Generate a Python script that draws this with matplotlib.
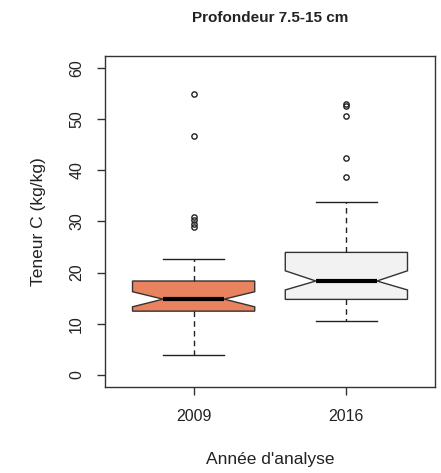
import matplotlib.pyplot as plt
import numpy as np

plt.rcParams['font.family'] = ['Liberation Sans', 'DejaVu Sans']

# valeurs
annees = ['2009', '2016']
q1 = [12.45, 14.75]
mediane = [14.8, 18.35]
q3 = [18.35, 23.95]
moust_bas = [3.95, 10.5]
moust_haut = [22.6, 33.75]
encoche_bas = [13.3, 16.6]
encoche_haut = [16.25, 20.35]
aberrants_2009 = [54.9, 46.8, 30.9, 30.3, 29.5, 28.9]
aberrants_2016 = [53.0, 52.6, 50.7, 42.4, 38.7]
couleurs = ['#E9825F', '#F2F2F2']

aberrants = [aberrants_2009, aberrants_2016]
stats = []
for i in range(len(annees)):
    stats.append({'label': annees[i], 'q1': q1[i], 'med': mediane[i], 'q3': q3[i],
                  'whislo': moust_bas[i], 'whishi': moust_haut[i],
                  'cilo': encoche_bas[i], 'cihi': encoche_haut[i],
                  'fliers': np.array(aberrants[i])})

fig = plt.figure(figsize=(4.41, 4.73), dpi=100)
ax = fig.add_axes([105 / 441, 1 - 387 / 473, 330 / 441, 331 / 473])

bp = ax.bxp(stats, positions=[1, 2], widths=0.8, shownotches=True, patch_artist=True,
            boxprops=dict(edgecolor='#333333', linewidth=1),
            whiskerprops=dict(color='#222222', linewidth=1, linestyle=(0, (4, 3))),
            capprops=dict(color='#222222', linewidth=1),
            medianprops=dict(color='black', linewidth=3, solid_capstyle='butt'),
            flierprops=dict(marker='o', markersize=3.8, markerfacecolor='none',
                            markeredgecolor='#222222', markeredgewidth=1))
for patch, c in zip(bp['boxes'], couleurs):
    patch.set_facecolor(c)

ax.set_xlim(0.42, 2.58)
ax.set_ylim(-2.4, 62.4)
ax.set_yticks(np.arange(0, 61, 10))
ax.set_xticks([1, 2])
ax.set_xticklabels(annees)
ax.tick_params(axis='both', length=6, width=1, color='#333333', labelsize=11.5, labelcolor='#222222')
ax.tick_params(axis='y', pad=9)
ax.tick_params(axis='x', pad=10)
for lbl in ax.get_yticklabels():
    lbl.set_rotation(90)
    lbl.set_va('center')
for s in ax.spines.values():
    s.set_color('#333333')
    s.set_linewidth(1)

ax.set_ylabel('Teneur C (kg/kg)', fontsize=12.5, color='#222222', labelpad=17)
ax.set_xlabel("Année d'analyse", fontsize=12.5, color='#222222', labelpad=20)
fig.text(270 / 441, 1 - 22 / 473, 'Profondeur 7.5-15 cm', ha='center', va='baseline',
         fontsize=11, fontweight='bold', color='#222222')

fig.savefig('out.png', dpi=100)
